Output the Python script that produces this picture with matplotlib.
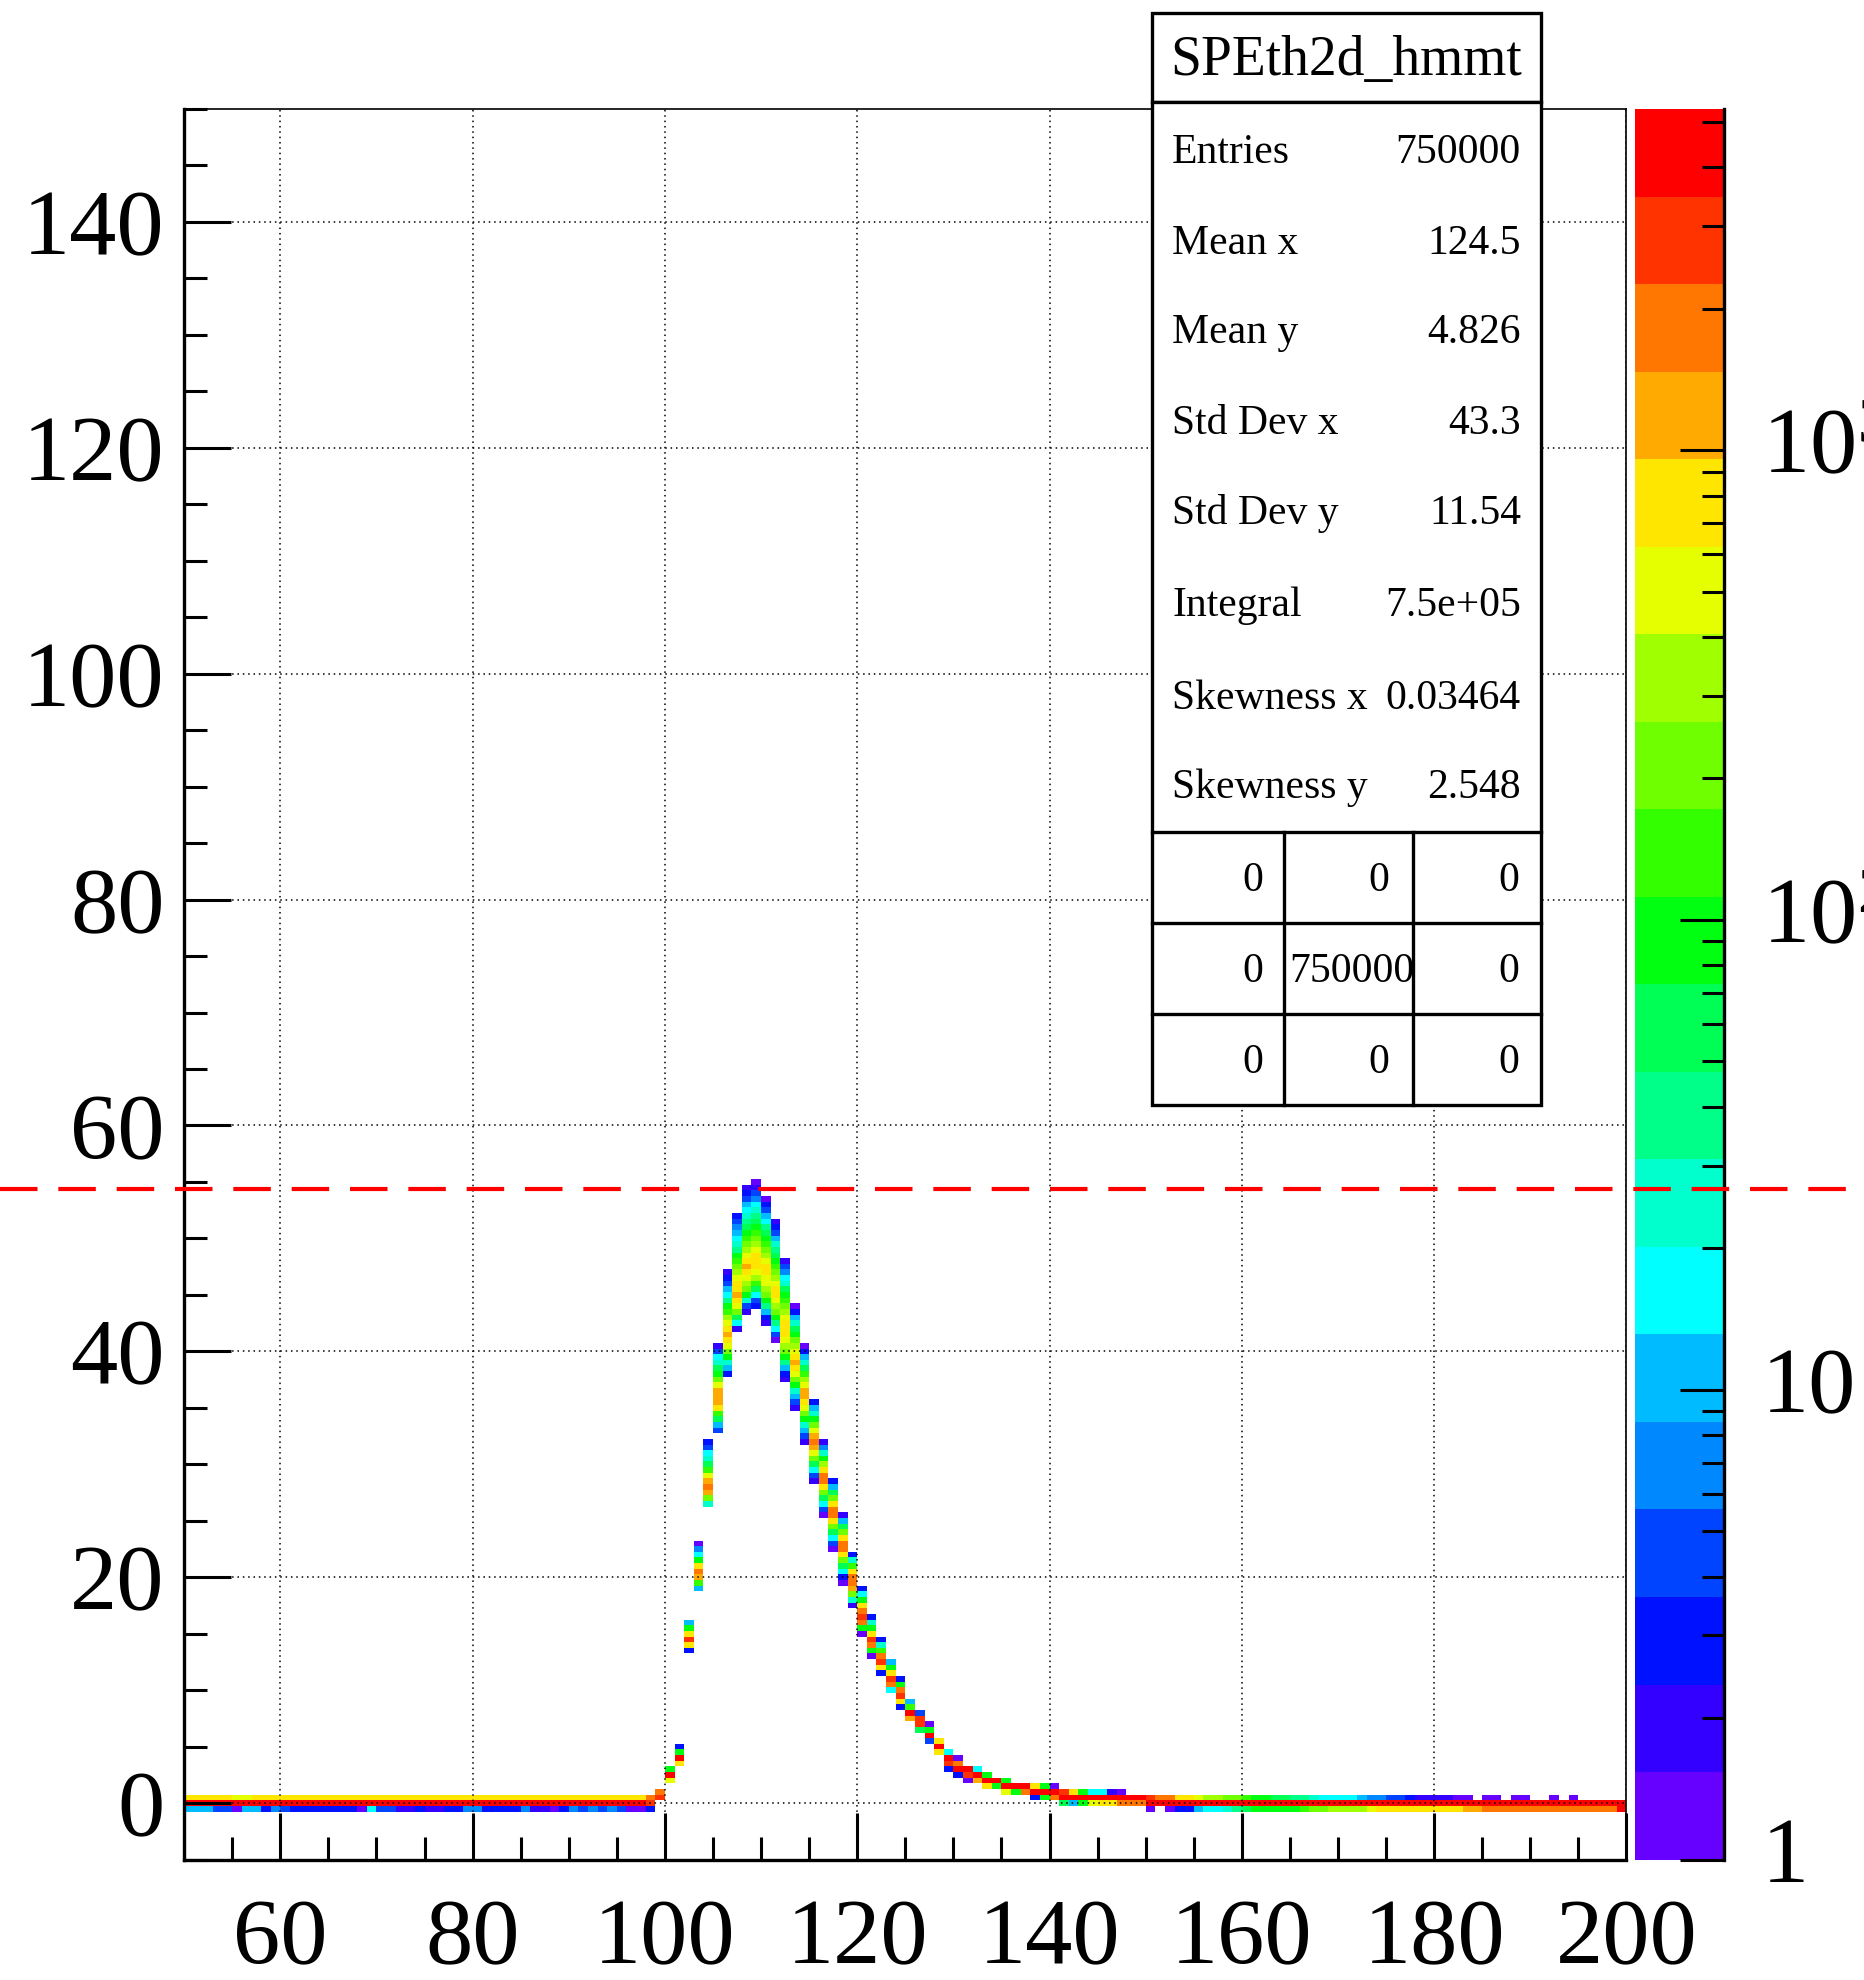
import numpy as np
import matplotlib
matplotlib.use('Agg')
import matplotlib.pyplot as plt
from matplotlib.colors import ListedColormap, BoundaryNorm
from matplotlib.patches import Rectangle
from matplotlib.lines import Line2D
from matplotlib.ticker import MultipleLocator, LogLocator, NullFormatter

plt.rcParams['font.family'] = ['Liberation Serif', 'DejaVu Serif']
plt.rcParams['mathtext.fontset'] = 'custom'
plt.rcParams['mathtext.rm'] = 'Liberation Serif'

# ---------------- data ----------------
palette = ['#6600ff', '#3300ff', '#0011ff', '#0044ff', '#0088ff', '#00bbff',
           '#00ffff', '#00ffcc', '#00ff88', '#00ff55', '#00ff10', '#33ff00',
           '#70ff00', '#a0ff00', '#e6ff00', '#ffe600', '#ffaa00', '#ff7700',
           '#ff3300', '#ff0000']
z_max = 5320

# left flat part, x bins 50..97, rows centred at y = 0.5, 0, -0.5
left_x = list(range(50, 98))
left_row_p05 = [744, 744, 744, 744, 744, 600, 600, 744, 744, 744, 744, 744,
                744, 744, 744, 744, 744, 744, 744, 744, 744, 744, 744, 744,
                744, 744, 744, 744, 744, 744, 744, 744, 744, 744, 744, 744,
                744, 744, 744, 744, 744, 744, 744, 744, 744, 744, 744, 744]
left_row_0 = [4090] * 48
left_row_m05 = [10, 10, 10, 4, 4, 1, 10, 10, 3, 8, 4, 3,
                3, 3, 3, 3, 3, 3, 1, 16, 4, 4, 2, 2,
                3, 2, 2, 3, 3, 8, 8, 3, 3, 3, 3, 6,
                2, 2, 1, 3, 6, 5, 6, 5, 6, 5, 1, 1]

# peak region: x bin, y centre of top cell, counts from top cell downwards
peak_x = list(range(98, 141))
peak_top = [0.5, 1.0, 3.0, 5.0, 16.0, 23.0, 32.0, 40.5, 47.0, 52.0,
            54.5, 55.0, 53.5, 51.5, 48.0, 44.0, 40.5, 35.5, 32.0, 28.5,
            25.5, 22.0, 19.0, 16.5, 14.5, 12.5, 11.0, 9.0, 8.0, 7.0,
            5.5, 4.5, 4.0, 3.0, 3.0, 2.5, 2.0, 2.0, 1.5, 1.5,
            1.5, 1.5, 1.5]
peak_counts = [
    [1745, 3000, 3],
    [1745, 2670],
    [88, 4090, 486],
    [3, 88, 3500, 744],
    [10, 88, 744, 3000, 744, 3],
    [1, 6, 16, 88, 744, 1745, 1140, 135, 10],
    [3, 5, 16, 24, 57, 135, 486, 1140, 1745, 1140, 207, 24],
    [2, 4, 16, 24, 57, 88, 207, 486, 1140, 1140, 1140, 744, 135, 57, 10, 5],
    [2, 3, 5, 10, 16, 38, 88, 135, 317, 486, 744, 1140, 744, 486, 207, 88, 24, 10, 3],
    [3, 4, 6, 10, 16, 24, 38, 88, 135, 207, 317, 486, 744, 744, 1140, 744, 486, 207, 57, 16, 2],
    [2, 3, 5, 10, 16, 24, 38, 57, 88, 135, 207, 317, 486, 744, 1140, 744, 486, 317, 207, 88, 24, 5, 2],
    [1, 2, 4, 6, 16, 24, 38, 57, 88, 135, 207, 317, 486, 744, 744, 744, 486, 317, 135, 57, 16, 4, 3],
    [1, 3, 4, 10, 16, 38, 57, 88, 135, 207, 317, 486, 744, 744, 486, 486, 317, 207, 88, 38, 10, 3, 2],
    [2, 3, 5, 10, 24, 38, 57, 88, 135, 207, 317, 486, 744, 744, 486, 317, 207, 88, 38, 16, 4, 1],
    [2, 4, 6, 16, 24, 57, 88, 135, 207, 317, 486, 744, 744, 744, 486, 317, 207, 88, 38, 10, 3, 2],
    [1, 3, 10, 24, 57, 88, 207, 317, 486, 744, 1140, 744, 486, 207, 88, 24, 10, 4, 2],
    [1, 3, 10, 24, 57, 135, 317, 486, 1140, 1140, 744, 486, 207, 88, 24, 10, 4, 2],
    [3, 10, 24, 88, 207, 486, 1140, 1745, 1140, 486, 207, 57, 16, 5, 2],
    [2, 6, 24, 88, 317, 744, 1745, 1745, 744, 207, 57, 16, 4, 1],
    [3, 10, 57, 207, 744, 1745, 1745, 744, 207, 57, 16, 4, 1],
    [2, 10, 57, 207, 744, 1745, 1745, 744, 207, 57, 16, 3, 1],
    [3, 24, 135, 744, 1745, 2170, 1140, 207, 24, 2],
    [3, 16, 88, 744, 1745, 2670, 1745, 88, 1],
    [3, 24, 88, 744, 2670, 1745, 88, 1],
    [3, 24, 135, 1745, 3000, 744, 3],
    [10, 88, 744, 3000, 1745, 16],
    [3, 88, 1745, 3000, 744, 3],
    [10, 135, 4090, 1140],
    [4, 2670, 2670, 57],
    [1, 88, 4090, 4],
    [744, 4090, 744],
    [16, 4090, 2670, 3],
    [1, 2170, 3500, 3],
    [3500, 2670, 1],
    [16, 4090, 1140],
    [88, 4090, 744],
    [4090, 88],
    [88, 4090, 486],
    [4090, 88],
    [3500, 1745],
    [744, 4090, 3],
    [88, 4090, 88],
    [1, 3500, 1745],
]

# right flat part, x bins 141..199, rows centred at y = 1.0, 0.5, 0, -0.5
right_x = list(range(141, 200))
right_row_p10 = [2670, 744, 88, 16, 16, 2, 1, 0, 0] + [0] * 50
right_row_p05 = [4090, 4090, 4090, 4090, 4090, 4090, 3500, 3500, 3500,
                 2670, 2170, 1745, 744, 744, 486, 317, 317, 207, 207,
                 135, 88, 88, 57, 57, 38, 38, 24, 16, 16,
                 16, 16, 10, 6, 6, 5, 4, 3, 2, 2,
                 2, 2, 1, 1, 0, 1, 1, 0, 1, 1,
                 0, 0, 1, 0, 1, 0, 0, 0, 0, 0]
right_row_0 = [57, 10, 88, 486, 744, 744, 1745, 1745, 2170] + [4090] * 50
right_row_m05 = [0, 0, 0, 0, 0, 0, 0, 0, 0,
                 1, 0, 1, 3, 3, 10, 16, 16, 24, 38,
                 57, 88, 88, 88, 88, 88, 135, 207, 207, 317,
                 317, 317, 317, 486, 744, 744, 744, 744, 744, 744,
                 744, 744, 744, 1140, 1140, 1745, 1745, 1745, 1745, 2170,
                 2170, 2170, 2170, 2170, 2170, 2170, 2170, 2170, 2170, 3500]

cut_line_y = 54.35

stats_labels = ['Entries', 'Mean x', 'Mean y', 'Std Dev x', 'Std Dev y',
                'Integral', 'Skewness x', 'Skewness y']
stats_values = ['750000', '124.5', '4.826', '43.3', '11.54', '7.5e+05',
                '0.03464', '2.548']
table_values = [['0', '0', '0'], ['0', '750000', '0'], ['0', '0', '0']]

# ---------------- histogram array ----------------
y_lo, dy, ny = -5.25, 0.5, 311
x_lo, nx = 50, 150
hist = np.zeros((ny, nx))


def put(xb, yc, v):
    j = int(round((yc - (y_lo + dy / 2)) / dy))
    hist[j, xb - x_lo] = v


for i, xb in enumerate(left_x):
    put(xb, 0.5, left_row_p05[i])
    put(xb, 0.0, left_row_0[i])
    put(xb, -0.5, left_row_m05[i])
for xb, top, cnts in zip(peak_x, peak_top, peak_counts):
    for k, v in enumerate(cnts):
        put(xb, top - k * dy, v)
for i, xb in enumerate(right_x):
    put(xb, 1.0, right_row_p10[i])
    put(xb, 0.5, right_row_p05[i])
    put(xb, 0.0, right_row_0[i])
    put(xb, -0.5, right_row_m05[i])

xedges = x_lo + np.arange(nx + 1)
yedges = y_lo + dy * np.arange(ny + 1)
data = np.ma.masked_less(hist, 1)

bounds = np.logspace(0, np.log10(z_max), 21)
cmap = ListedColormap(palette)
norm = BoundaryNorm(bounds, 20)

# ---------------- figure ----------------
W, H = 1865, 1980
fig = plt.figure(figsize=(W / 100, H / 100), dpi=100)


def fx(px):
    return px / W


def fy(py):
    return 1 - py / H


ax_l, ax_r, ax_t, ax_b = 184.2, 1626.4, 109.0, 1859.6
ax = fig.add_axes([fx(ax_l), fy(ax_b), fx(ax_r - ax_l), (ax_b - ax_t) / H])
ax.pcolormesh(xedges, yedges, data, cmap=cmap, norm=norm, shading='flat',
              antialiased=False, edgecolors='none', zorder=1)
ax.set_xlim(50, 200)
ax.set_ylim(-5, 150)
ax.set_xticks(np.arange(60, 201, 20))
ax.set_yticks(np.arange(0, 141, 20))
ax.xaxis.set_minor_locator(MultipleLocator(5))
ax.yaxis.set_minor_locator(MultipleLocator(5))
ax.grid(True, which='major', color='black', linestyle=(0, (1, 2.5)), linewidth=1.1)
ax.set_axisbelow(False)
ax.tick_params(axis='both', which='major', direction='in', length=34, width=2.2,
               labelsize=68)
ax.tick_params(axis='both', which='minor', direction='in', length=16.5, width=2.2)
ax.tick_params(axis='x', which='major', pad=28)
ax.tick_params(axis='y', which='major', pad=14)
for s in ['left', 'bottom']:
    ax.spines[s].set_linewidth(2.4)
for s in ['top', 'right']:
    ax.spines[s].set_linewidth(1.2)

# colour bar
cb_l, cb_r = 1635.3, 1723.6
cax = fig.add_axes([fx(cb_l), fy(ax_b), fx(cb_r - cb_l), (ax_b - ax_t) / H])
cax.set_yscale('log')
cax.set_ylim(1, z_max)
cax.set_xlim(0, 1)
for i in range(20):
    cax.axhspan(bounds[i], bounds[i + 1], color=palette[i], lw=0)
for s in ['left', 'top', 'bottom']:
    cax.spines[s].set_visible(False)
cax.spines['right'].set_linewidth(2.4)
cax.set_xticks([])
cax.yaxis.tick_right()
cax.yaxis.set_major_locator(LogLocator(base=10, numticks=10))
cax.yaxis.set_minor_locator(LogLocator(base=10, subs=np.arange(2, 10), numticks=50))
cax.yaxis.set_major_formatter(NullFormatter())
cax.yaxis.set_minor_formatter(NullFormatter())
cax.tick_params(axis='y', which='major', direction='in', length=32, width=2.2)
cax.tick_params(axis='y', which='minor', direction='in', length=16, width=2.2)

cb_labels = [(1, '1'), (10, '10'), (100, r'$\mathregular{10^{2}}$'),
             (1000, r'$\mathregular{10^{3}}$')]
for v, lab in cb_labels:
    py = ax_b - np.log10(v) / np.log10(z_max) * (ax_b - ax_t)
    fig.text(fx(1762), fy(py), lab, ha='left', va='center', fontsize=68)

# stats box
bx_l, bx_r = 1152.0, 1541.0
lw_box = 2.4
fig.add_artist(Rectangle((fx(bx_l), fy(101.7)), fx(bx_r - bx_l), (101.7 - 12.5) / H,
                         transform=fig.transFigure, facecolor='white',
                         edgecolor='black', lw=lw_box, zorder=10))
fig.add_artist(Rectangle((fx(bx_l), fy(1105)), fx(bx_r - bx_l), (1105 - 101.7) / H,
                         transform=fig.transFigure, facecolor='white',
                         edgecolor='black', lw=lw_box, zorder=10))
for py in [832, 923, 1014]:
    fig.add_artist(Line2D([fx(bx_l), fx(bx_r)], [fy(py), fy(py)],
                          transform=fig.transFigure, color='black', lw=lw_box, zorder=11))
for px in [1284, 1413]:
    fig.add_artist(Line2D([fx(px), fx(px)], [fy(832), fy(1105)],
                          transform=fig.transFigure, color='black', lw=lw_box, zorder=11))

title_em = 40 * 100 / 72
fig.text(fx(1346), fy(57 + 0.331 * title_em), 'SPEth2d_hmmt', ha='center',
         va='baseline', fontsize=40, zorder=12)
st_fs = 30
st_em = st_fs * 100 / 72
row_c = [149, 240, 329, 420, 510, 602, 695, 784]
for lab, val, pc in zip(stats_labels, stats_values, row_c):
    base = pc + 0.331 * st_em
    fig.text(fx(1172), fy(base), lab, ha='left', va='baseline', fontsize=st_fs, zorder=12)
    fig.text(fx(1521), fy(base), val, ha='right', va='baseline', fontsize=st_fs, zorder=12)
tab_rows = [877.6, 968.5, 1059.4]
tab_right = [1263, 1389, 1519]
for r, pc in enumerate(tab_rows):
    base = pc + 0.331 * st_em
    for c in range(3):
        val = table_values[r][c]
        if len(val) > 3:
            fig.text(fx(1289), fy(base), val, ha='left', va='baseline', fontsize=st_fs, zorder=12)
        else:
            fig.text(fx(tab_right[c]), fy(base), val, ha='right', va='baseline',
                     fontsize=st_fs, zorder=12)

# red dashed cut line across whole canvas
py_cut = ax_b - (cut_line_y + 5) / 155 * (ax_b - ax_t)
fig.add_artist(Line2D([0, 1], [fy(py_cut), fy(py_cut)], transform=fig.transFigure,
                      color='#ff0000', lw=3.0, linestyle=(0, (9, 5)), zorder=20))

fig.savefig('out.png', dpi=100)
